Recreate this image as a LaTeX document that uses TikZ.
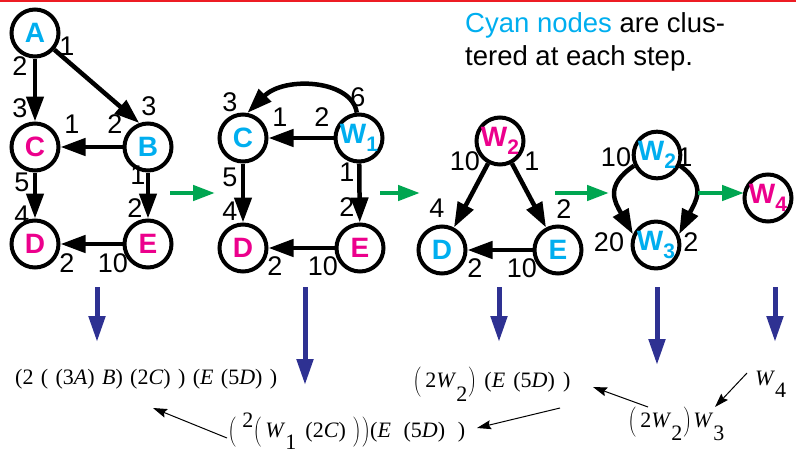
\documentclass[tikz,border=0pt]{standalone}
\usepackage{fontspec}
\setmainfont{Liberation Sans}
\newfontfamily\serf{Liberation Serif}
\usetikzlibrary{arrows.meta}
\definecolor{cyanT}{RGB}{0,174,239}
\definecolor{magT}{RGB}{236,0,140}
\definecolor{blueA}{RGB}{46,49,146}
\definecolor{greenA}{RGB}{0,166,81}
\definecolor{redL}{RGB}{237,28,36}
\newcommand\Lpar{$\left(\vrule height 17pt depth 11pt width 0pt\right.$}
\newcommand\Rpar{$\left.\vrule height 17pt depth 11pt width 0pt\right)$}
\newcommand\Wsub[1]{W\raisebox{-8pt}{\fontsize{21}{21}\selectfont #1}}
\begin{document}
\begin{tikzpicture}[x=1pt,y=-1pt,
 vnode/.style={circle,draw,line width=4pt,minimum size=47pt,inner sep=0pt,font=\fontsize{28}{28}\selectfont\bfseries},
 snode/.style={vnode,minimum size=44pt},
 cy/.style={text=cyanT}, mg/.style={text=magT},
 wt/.style={font=\fontsize{27}{27}\selectfont,inner sep=0pt},
 gedge/.style={line width=4.5pt,-{Triangle[length=25pt,width=17pt]}},
 grn/.style={draw=greenA,line width=4.5pt,-{Triangle[length=22pt,width=15pt]}},
 blu/.style={draw=blueA,line width=5pt,-{Triangle[length=26pt,width=16pt]}},
 fthin/.style={line width=1pt,-{Stealth[length=14pt,width=9pt,inset=2pt]}},
 frm/.style={font=\serf\fontsize{22}{22}\selectfont,inner sep=0pt,anchor=base west},
 toptext/.style={font=\fontsize{27.5}{27.5}\selectfont,inner sep=0pt,anchor=base west},
]
\useasboundingbox (0,0) rectangle (796,453);
\fill[redL] (0,0) rectangle (796,2);

% top text
\node[toptext] (t1) at (465,32) {\textcolor{cyanT}{Cyan nodes} are clus-};
\node[toptext] (t2) at (465,65) {tered at each step.};

% graph 1
\node[vnode,cy] (A) at (35,33) {A};
\node[vnode,mg] (C) at (35,147) {C};
\node[vnode,cy] (B) at (148,147) {B};
\node[vnode,mg] (D) at (35,244) {D};
\node[vnode,mg] (E) at (148,244) {E};
\draw[gedge] (A) -- (C);
\draw[gedge] (A) -- (B.110);
\draw[gedge] (B) -- (C);
\draw[gedge] (C) -- (D);
\draw[gedge] (B) -- (E);
\draw[gedge] (E) -- (D);
\node[wt] (a1) at (67,46) {1};
\node[wt] (a2) at (20,66) {2};
\node[wt] (a3) at (20,108) {3};
\node[wt] (a4) at (149,106) {3};
\node[wt] (a5) at (72,124) {1};
\node[wt] (a6) at (115,124) {2};
\node[wt] (a7) at (22,182) {5};
\node[wt] (a8) at (22,215) {4};
\node[wt] (a9) at (138,175) {1};
\node[wt] (a10) at (135,208) {2};
\node[wt] (a11) at (67,263) {2};
\node[wt] (a12) at (113,263) {10};

% graph 2
\node[vnode,cy] (C2) at (243,138) {C};
\node[vnode,cy] (W1) at (359,138) {\Wsub{1}};
\node[vnode,mg] (D2) at (243,248) {D};
\node[vnode,mg] (E2) at (360,248) {E};
\draw[gedge] (W1.95) .. controls +(-5,-33) and +(37,-37) .. (C2.80);
\draw[gedge] (W1) -- (C2);
\draw[gedge] (C2) -- (D2);
\draw[gedge] (W1) -- (E2);
\draw[gedge] (E2) -- (D2);
\node[wt] (b1) at (230,102) {3};
\node[wt] (b2) at (358,97) {6};
\node[wt] (b3) at (280,117) {1};
\node[wt] (b4) at (322,117) {2};
\node[wt] (b5) at (230,177) {5};
\node[wt] (b6) at (230,211) {4};
\node[wt] (b7) at (347,172) {1};
\node[wt] (b8) at (347,207) {2};
\node[wt] (b9) at (275,266) {2};
\node[wt] (b10) at (323,266) {10};

% graph 3
\node[vnode,mg] (W2) at (500,141) {\Wsub{2}};
\node[vnode,cy] (D3) at (442,250) {D};
\node[vnode,cy] (E3) at (558,250) {E};
\draw[gedge] (W2) -- (D3);
\draw[gedge] (W2) -- (E3);
\draw[gedge] (E3) -- (D3);
\node[wt] (c1) at (465,161) {10};
\node[wt] (c2) at (532,161) {1};
\node[wt] (c3) at (437,208) {4};
\node[wt] (c4) at (564,209) {2};
\node[wt] (c5) at (475,268) {2};
\node[wt] (c6) at (522,268) {10};

% graph 4
\node[snode,cy] (W2b) at (657,155) {\Wsub{2}};
\node[snode,cy] (W3) at (656,245) {\Wsub{3}};
\draw[gedge] (W2b.205) .. controls +(-30,20) and +(-18,-32) .. (W3.155);
\draw[gedge] (W2b.335) .. controls +(28,20) and +(16,-32) .. (W3.25);
\node[wt] (d1) at (616,157) {10};
\node[wt] (d2) at (685,157) {1};
\node[wt] (d3) at (609,242) {20};
\node[wt] (d4) at (691,242) {2};

% W4
\node[vnode,mg] (W4) at (768,198) {\Wsub{4}};

% green arrows
\coordinate (g1s) at (170,193); \coordinate (g1e) at (215,193);
\coordinate (g2s) at (380,193); \coordinate (g2e) at (420,193);
\coordinate (g3s) at (555,193); \coordinate (g3e) at (609,193);
\coordinate (g4s) at (698,193); \coordinate (g4e) at (744,193);
\draw[grn] (g1s) -- (g1e);
\draw[grn] (g2s) -- (g2e);
\draw[grn] (g3s) -- (g3e);
\draw[grn] (g4s) -- (g4e);

% blue arrows
\coordinate (u1s) at (97,287); \coordinate (u1e) at (97,342);
\coordinate (u2s) at (305,287); \coordinate (u2e) at (305,385);
\coordinate (u3s) at (499,287); \coordinate (u3e) at (499,342);
\coordinate (u4s) at (657,287); \coordinate (u4e) at (657,365);
\coordinate (u5s) at (775,287); \coordinate (u5e) at (775,342);
\draw[blu] (u1s) -- (u1e);
\draw[blu] (u2s) -- (u2e);
\draw[blu] (u3s) -- (u3e);
\draw[blu] (u4s) -- (u4e);
\draw[blu] (u5s) -- (u5e);

% formulas
\node[frm] (f1) at (15,384) {\makebox[262pt][s]{(2 ( (3\textit{A}) \textit{B}) (2\textit{C}) ) (\textit{E} (5\textit{D}) )}};
\node[frm] (f2) at (228,437) {\Lpar\hspace{5pt}\raisebox{10pt}{2}\Lpar\hspace{3pt}\textit{W}\raisebox{-12pt}{1}\hspace{9pt}(2\textit{C})\hspace{6pt}\Rpar\Rpar\makebox[95pt][s]{(\textit{E} (5\textit{D}) )}};
\node[frm] (f3) at (413,387) {\Lpar\hspace{3pt}2\textit{W}\raisebox{-14pt}{2}\Rpar\hspace{8pt}\makebox[86pt][s]{(\textit{E} (5\textit{D}) )}};
\node[frm] (f4) at (628,427) {\Lpar\hspace{3pt}2\textit{W}\raisebox{-13pt}{2}\Rpar\hspace{2pt}\textit{W}\raisebox{-13pt}{3}};
\node[frm] (f5) at (755,385) {\textit{W}\raisebox{-12pt}{4}};

% thin arrows
\coordinate (h1a) at (648,407); \coordinate (h1b) at (593,387);
\coordinate (h2a) at (747,373); \coordinate (h2b) at (715,407);
\coordinate (h3a) at (560,408); \coordinate (h3b) at (477,428);
\coordinate (h4a) at (227,438); \coordinate (h4b) at (153,408);
\draw[fthin] (h1a) -- (h1b);
\draw[fthin] (h2a) -- (h2b);
\draw[fthin] (h3a) -- (h3b);
\draw[fthin] (h4a) -- (h4b);
\end{tikzpicture}
\end{document}
